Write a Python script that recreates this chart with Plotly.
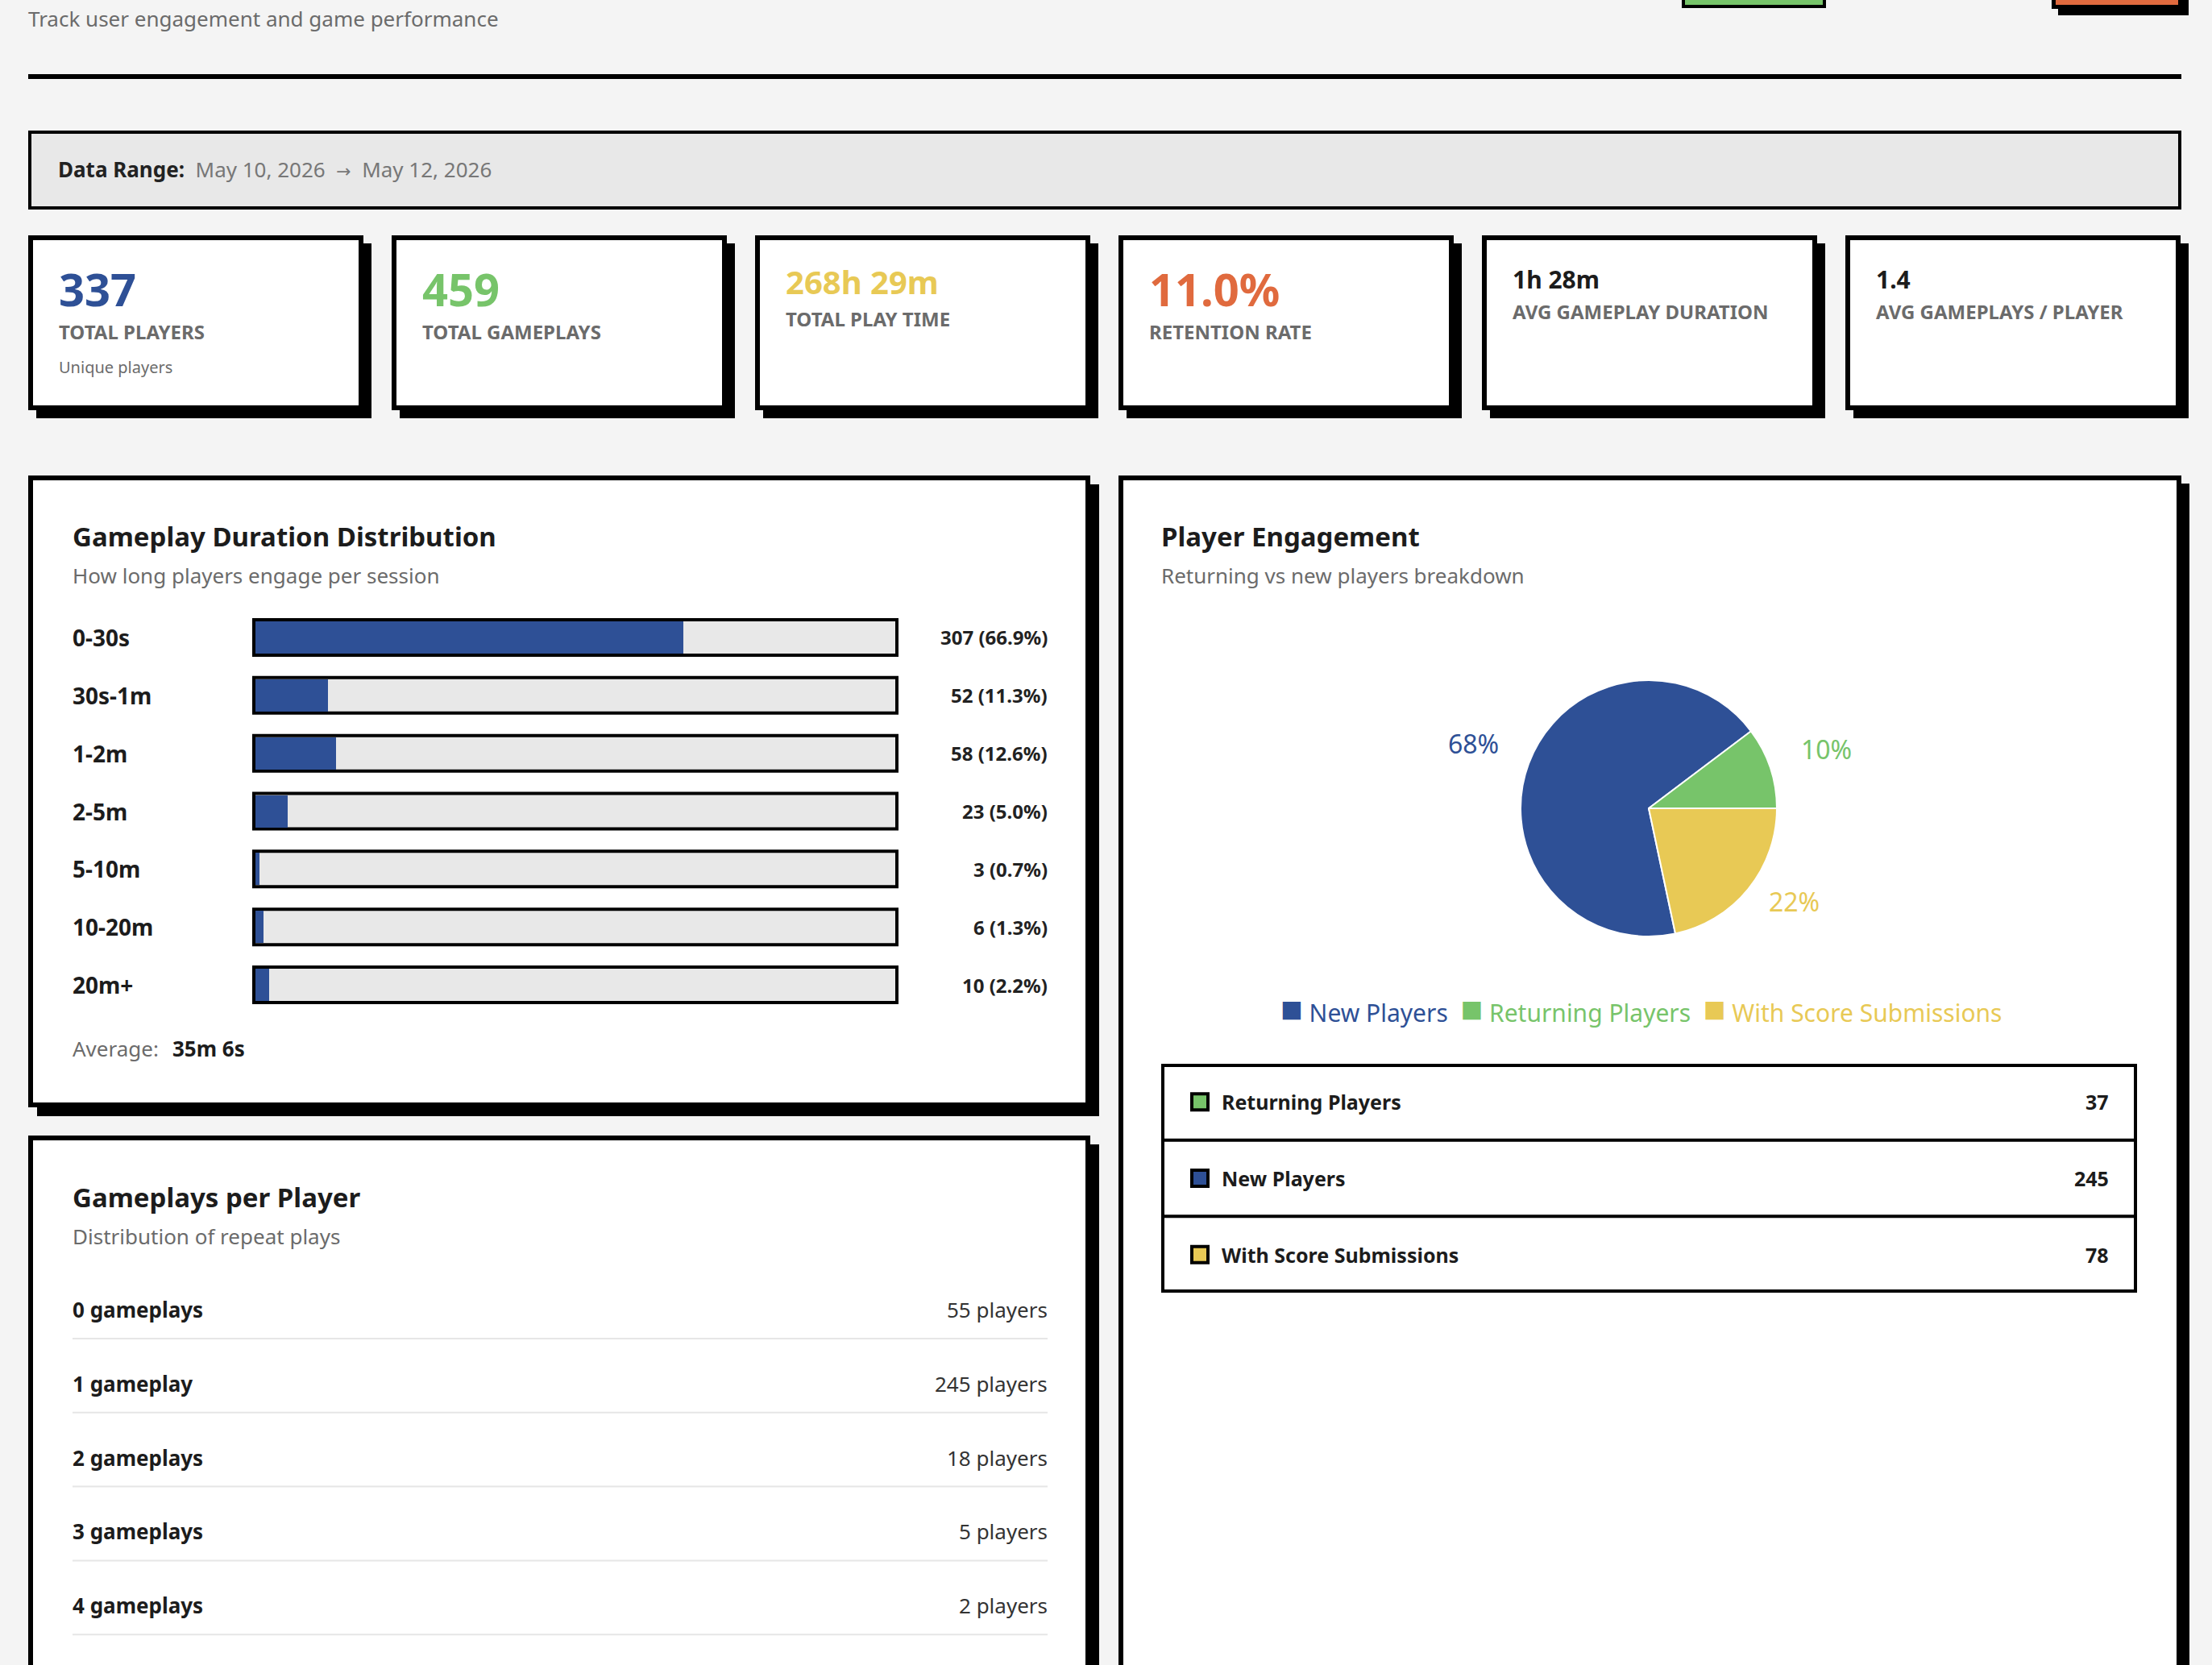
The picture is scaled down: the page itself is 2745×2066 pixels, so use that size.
import math
import plotly.graph_objects as go

W, H = 2745, 2066
FONT = "Noto Sans"

# ---------------- data ----------------
kpi_values = ["337", "459", "268h 29m", "11.0%", "1h 28m", "1.4"]
kpi_labels = ["TOTAL PLAYERS", "TOTAL GAMEPLAYS", "TOTAL PLAY TIME", "RETENTION RATE",
              "AVG GAMEPLAY DURATION", "AVG GAMEPLAYS / PLAYER"]
kpi_notes = ["Unique players", "", "", "", "", ""]

duration_labels = ["0-30s", "30s-1m", "1-2m", "2-5m", "5-10m", "10-20m", "20m+"]
duration_counts = [307, 52, 58, 23, 3, 6, 10]
average_duration = "35m 6s"

gameplay_bins = ["0 gameplays", "1 gameplay", "2 gameplays", "3 gameplays", "4 gameplays"]
gameplay_players = [55, 245, 18, 5, 2]

engagement_labels = ["New Players", "Returning Players", "With Score Submissions"]
engagement_values = [245, 37, 78]
table_order = ["Returning Players", "New Players", "With Score Submissions"]

date_from, date_to = "May 10, 2026", "May 12, 2026"

# ---------------- styles ----------------
BLUE, GREEN, YELLOW, ORANGE = "#2E5096", "#77C46A", "#E8C955", "#E06A3E"
DARK, GRAY = "#1c1c1c", "#6b6b6b"
kpi_colors = [BLUE, GREEN, YELLOW, ORANGE, DARK, DARK]
kpi_sizes = [56, 56, 40, 56, 30, 30]
eng_colors = {"New Players": BLUE, "Returning Players": GREEN, "With Score Submissions": YELLOW}

shapes, annots = [], []


def X(px):
    return px / W


def Y(py):
    return 1 - py / H


def rect(x0, y0, x1, y1, fill, lc=None, lw=0):
    shapes.append(dict(type="rect", xref="paper", yref="paper", layer="below",
                       x0=X(x0), x1=X(x1), y0=Y(y1), y1=Y(y0), fillcolor=fill,
                       line=dict(color=lc or "rgba(0,0,0,0)", width=lw)))


def box(x0, y0, x1, y1, fill, b, shadow=0):
    if shadow:
        rect(x0 + shadow, y0 + shadow, x1 + shadow, y1 + shadow, "#000000")
    rect(x0 + b / 2, y0 + b / 2, x1 - b / 2, y1 - b / 2, fill, "#000000", b)


def line(x0, y0, x1, y1, color, w):
    shapes.append(dict(type="line", xref="paper", yref="paper", layer="below",
                       x0=X(x0), x1=X(x1), y0=Y(y0), y1=Y(y1), line=dict(color=color, width=w)))


def text(x, y, s, size, color=DARK, anchor="left", bold=False):
    dx = -2 if anchor == "left" else (2 if anchor == "right" else 0)
    annots.append(dict(x=X(x + dx), y=Y(y), xref="paper", yref="paper", text=s, showarrow=False,
                       xanchor=anchor, yanchor="middle",
                       font=dict(family=FONT, size=size, color=color,
                                 weight="bold" if bold else "normal")))


# ---------------- header ----------------
text(35, 23, "Track user engagement and game performance", 26, GRAY)
box(2087, -20, 2266, 10, GREEN, 4)
box(2546, -20, 2708, 11, ORANGE, 5, shadow=8)
rect(35, 92, 2707, 98, "#000000")

# data range bar
box(35, 162, 2707, 260, "#e8e8e8", 4)
text(72, 210, f"<b>Data Range:</b>  <span style='color:#777777'>{date_from}  "
              f"<span style='font-family:DejaVu Sans;font-size:22px'>→</span>  {date_to}</span>",
     26, "#222222")

# ---------------- KPI cards ----------------
card_w, gap = 416, 35
val_y = [358, 358, 350, 358, 347, 347]
lab_y = [411, 411, 396, 411, 387, 387]
for i in range(6):
    cx = 35 + i * (card_w + gap)
    box(cx, 292, cx + card_w, 509, "#ffffff", 6, shadow=10)
    text(cx + 38, val_y[i], f"<b>{kpi_values[i]}</b>", kpi_sizes[i], kpi_colors[i])
    text(cx + 38, lab_y[i], f"<b>{kpi_labels[i]}</b>", 24, GRAY)
    if kpi_notes[i]:
        text(cx + 38, 455, kpi_notes[i], 20, GRAY)

# ---------------- panels ----------------
box(35, 590, 1353, 1374, "#ffffff", 6, shadow=11)
box(35, 1409, 1353, 2250, "#ffffff", 6, shadow=11)
box(1388, 590, 2707, 2250, "#ffffff", 6, shadow=10)

# panel 1: duration distribution
text(90, 665, "<b>Gameplay Duration Distribution</b>", 33, DARK)
text(90, 714, "How long players engage per session", 26, GRAY)

total = sum(duration_counts)
ytop, ybot = 755, 1258
step = (ybot - ytop) / len(duration_labels)
for i, (lab, c) in enumerate(zip(duration_labels, duration_counts)):
    cy = ytop + step * (i + 0.5)
    box(313, cy - 24, 1115, cy + 24, "#e8e8e8", 4)
    text(90, cy, f"<b>{lab}</b>", 28, DARK)
    text(1300, cy, f"<b>{c} ({c / total * 100:.1f}%)</b>", 24, "#222222", anchor="right")

text(90, 1301, "Average:", 26, GRAY)
text(214, 1301, f"<b>{average_duration}</b>", 26, DARK)

bar = go.Bar(x=duration_counts, y=duration_labels, orientation="h", width=40 / step,
             marker=dict(color=BLUE, line=dict(width=0)), xaxis="x", yaxis="y",
             hoverinfo="skip", showlegend=False)

# panel 2: gameplays per player
text(90, 1485, "<b>Gameplays per Player</b>", 33, DARK)
text(90, 1534, "Distribution of repeat plays", 26, GRAY)
for i, (lab, n) in enumerate(zip(gameplay_bins, gameplay_players)):
    cy = 1625 + 91.8 * i
    text(90, cy, f"<b>{lab}</b>", 26, DARK)
    text(1300, cy, f"{n} players", 26, "#333333", anchor="right")
    line(90, cy + 36, 1300, cy + 36, "#e6e6e6", 2)

# panel 3: engagement
text(1441, 665, "<b>Player Engagement</b>", 33, DARK)
text(1441, 714, "Returning vs new players breakdown", 26, GRAY)

pcx, pcy, pr = 2046, 1003, 159
ROT = 168
pie = go.Pie(labels=engagement_labels, values=engagement_values, sort=False,
             direction="clockwise", rotation=ROT,
             marker=dict(colors=[eng_colors[l] for l in engagement_labels],
                         line=dict(color="#ffffff", width=2)),
             textinfo="none",
             domain=dict(x=[X(pcx - pr), X(pcx + pr)], y=[Y(pcy + pr), Y(pcy - pr)]),
             hoverinfo="skip", showlegend=False)

# percentage labels outside each slice, at the slice mid-angle
tot_eng = sum(engagement_values)
start = 90 - ROT  # math angle (deg) where the first slice starts
for lab, v in zip(engagement_labels, engagement_values):
    span = v / tot_eng * 360
    mid = math.radians(start - span / 2)
    start -= span
    lx = pcx + 232 * math.cos(mid)
    ly = pcy - 200 * math.sin(mid) - 10
    text(lx, ly, f"{round(v / tot_eng * 100)}%", 32, eng_colors[lab], anchor="center")

leg = "  ".join(
    f"<span style='color:{eng_colors[l]};font-size:46px'>■</span>"
    f"<span style='color:{eng_colors[l]}'> {l}</span>" for l in engagement_labels)
text(2036, 1250, leg, 30, DARK, anchor="center")

# engagement table
box(1441, 1320, 2652, 1604, "#ffffff", 4)
row_h = (1604 - 1320) / 3
for i, lab in enumerate(table_order):
    cy = 1320 + row_h * (i + 0.5)
    if i > 0:
        line(1441, 1320 + row_h * i, 2652, 1320 + row_h * i, "#000000", 4)
    box(1477, cy - 12, 1501, cy + 12, eng_colors[lab], 4)
    text(1516, cy, f"<b>{lab}</b>", 25, DARK)
    text(2617, cy, f"<b>{engagement_values[engagement_labels.index(lab)]}</b>", 25, DARK,
         anchor="right")

fig = go.Figure([bar, pie])
fig.update_layout(
    width=W, height=H, margin=dict(l=0, r=0, t=0, b=0),
    paper_bgcolor="#f4f4f4", plot_bgcolor="rgba(0,0,0,0)",
    shapes=shapes, annotations=annots, showlegend=False,
    xaxis=dict(domain=[X(317), X(1111)], range=[0, total], visible=False, fixedrange=True),
    yaxis=dict(domain=[Y(ybot), Y(ytop)], range=[len(duration_labels) - 0.5, -0.5],
               visible=False, fixedrange=True, type="category"),
    bargap=0,
)
fig.write_html("out.html")
